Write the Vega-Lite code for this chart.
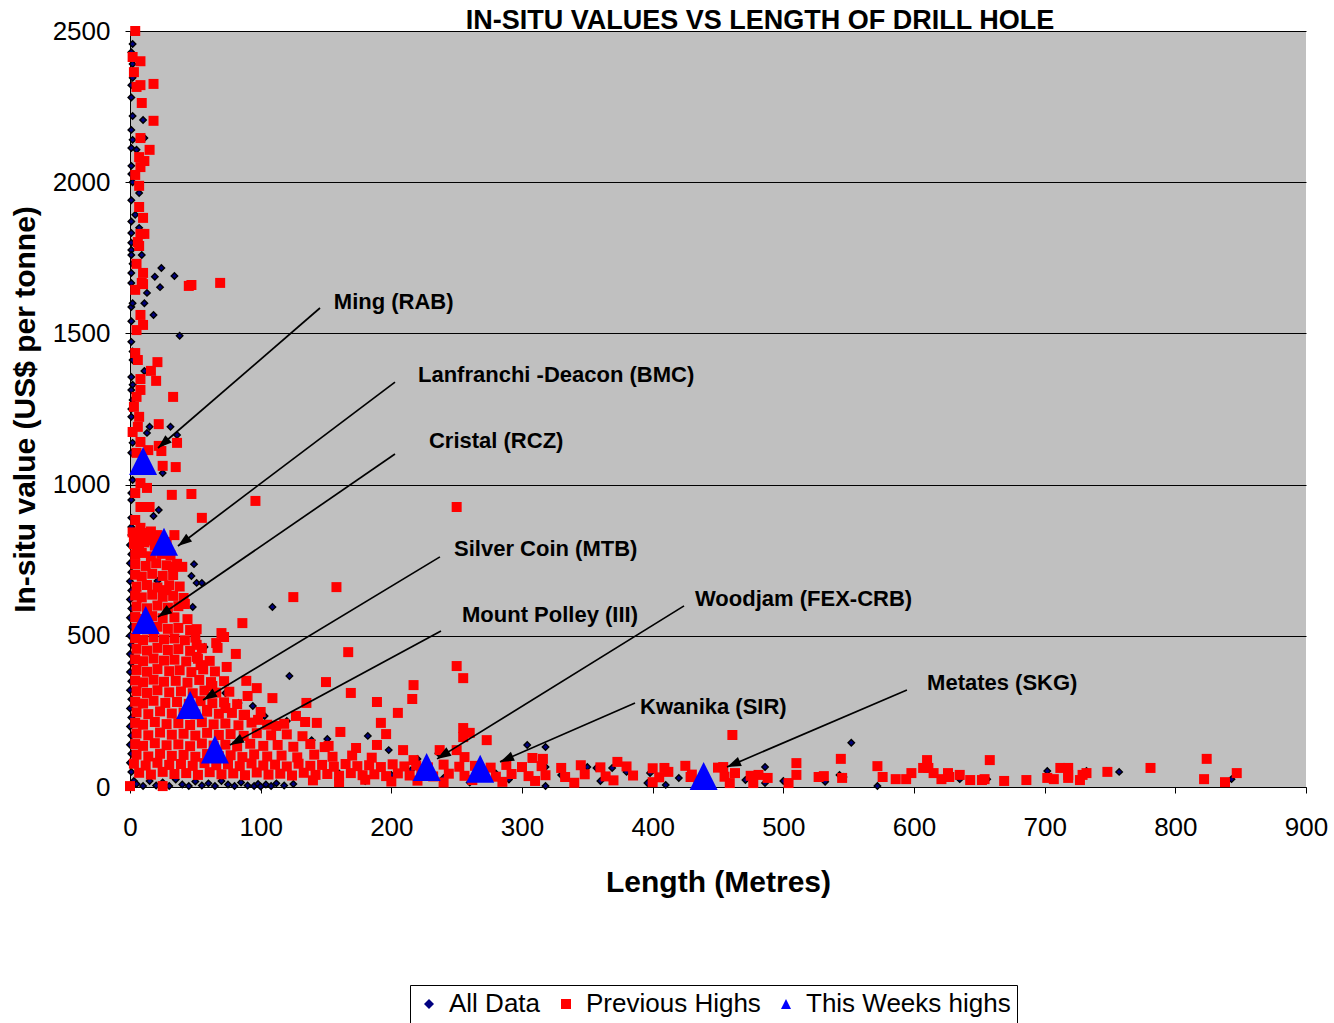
{
  "$schema": "https://vega.github.io/schema/vega-lite/v6.json",
  "autosize": "none",
  "padding": {"left": 130, "top": 31, "right": 28, "bottom": 236},
  "width": 1176,
  "height": 756,
  "background": "white",
  "config": {
    "view": {"stroke": null, "fill": "#C0C0C0"},
    "font": "Liberation Sans"
  },
  "title": {
    "text": "IN-SITU VALUES VS LENGTH OF DRILL HOLE",
    "font": "Liberation Sans",
    "fontSize": 27,
    "fontWeight": "bold",
    "color": "black",
    "anchor": "middle",
    "dx": 42,
    "dy": 18,
    "offset": 1
  },
  "datasets": {
    "pts": [
      {"x":2,"y":2457,"s":"All Data"},{"x":1,"y":2430,"s":"All Data"},{"x":2,"y":2391,"s":"All Data"},{"x":2,"y":2345,"s":"All Data"},{"x":1,"y":2321,"s":"All Data"},{"x":1,"y":2280,"s":"All Data"},{"x":2,"y":2219,"s":"All Data"},{"x":10,"y":2206,"s":"All Data"},{"x":1,"y":2173,"s":"All Data"},{"x":2,"y":2140,"s":"All Data"},{"x":1,"y":2113,"s":"All Data"},{"x":5,"y":2107,"s":"All Data"},{"x":11,"y":2146,"s":"All Data"},{"x":1,"y":2054,"s":"All Data"},{"x":1,"y":2027,"s":"All Data"},{"x":2,"y":2000,"s":"All Data"},{"x":7,"y":1964,"s":"All Data"},{"x":1,"y":1940,"s":"All Data"},{"x":4,"y":1892,"s":"All Data"},{"x":1,"y":1870,"s":"All Data"},{"x":7,"y":1849,"s":"All Data"},{"x":1,"y":1832,"s":"All Data"},{"x":1,"y":1800,"s":"All Data"},{"x":1,"y":1776,"s":"All Data"},{"x":1,"y":1759,"s":"All Data"},{"x":9,"y":1759,"s":"All Data"},{"x":2,"y":1730,"s":"All Data"},{"x":1,"y":1700,"s":"All Data"},{"x":24,"y":1716,"s":"All Data"},{"x":19,"y":1687,"s":"All Data"},{"x":34,"y":1690,"s":"All Data"},{"x":1,"y":1667,"s":"All Data"},{"x":23,"y":1653,"s":"All Data"},{"x":13,"y":1634,"s":"All Data"},{"x":11,"y":1600,"s":"All Data"},{"x":1,"y":1587,"s":"All Data"},{"x":18,"y":1561,"s":"All Data"},{"x":2,"y":1600,"s":"All Data"},{"x":1,"y":1540,"s":"All Data"},{"x":38,"y":1492,"s":"All Data"},{"x":1,"y":1472,"s":"All Data"},{"x":2,"y":1440,"s":"All Data"},{"x":2,"y":1412,"s":"All Data"},{"x":11,"y":1376,"s":"All Data"},{"x":1,"y":1356,"s":"All Data"},{"x":2,"y":1330,"s":"All Data"},{"x":1,"y":1313,"s":"All Data"},{"x":2,"y":1280,"s":"All Data"},{"x":1,"y":1250,"s":"All Data"},{"x":1,"y":1224,"s":"All Data"},{"x":15,"y":1191,"s":"All Data"},{"x":31,"y":1191,"s":"All Data"},{"x":13,"y":1171,"s":"All Data"},{"x":36,"y":1164,"s":"All Data"},{"x":2,"y":1138,"s":"All Data"},{"x":1,"y":1105,"s":"All Data"},{"x":25,"y":1038,"s":"All Data"},{"x":2,"y":1015,"s":"All Data"},{"x":1,"y":972,"s":"All Data"},{"x":1,"y":949,"s":"All Data"},{"x":22,"y":916,"s":"All Data"},{"x":18,"y":896,"s":"All Data"},{"x":1,"y":890,"s":"All Data"},{"x":1,"y":860,"s":"All Data"},{"x":1,"y":833,"s":"All Data"},{"x":0,"y":800,"s":"All Data"},{"x":1,"y":770,"s":"All Data"},{"x":0,"y":740,"s":"All Data"},{"x":1,"y":710,"s":"All Data"},{"x":0,"y":680,"s":"All Data"},{"x":1,"y":650,"s":"All Data"},{"x":0,"y":620,"s":"All Data"},{"x":1,"y":590,"s":"All Data"},{"x":0,"y":560,"s":"All Data"},{"x":1,"y":530,"s":"All Data"},{"x":0,"y":500,"s":"All Data"},{"x":1,"y":470,"s":"All Data"},{"x":0,"y":440,"s":"All Data"},{"x":1,"y":410,"s":"All Data"},{"x":0,"y":380,"s":"All Data"},{"x":1,"y":350,"s":"All Data"},{"x":0,"y":320,"s":"All Data"},{"x":1,"y":290,"s":"All Data"},{"x":0,"y":260,"s":"All Data"},{"x":1,"y":230,"s":"All Data"},{"x":0,"y":200,"s":"All Data"},{"x":1,"y":170,"s":"All Data"},{"x":0,"y":140,"s":"All Data"},{"x":1,"y":110,"s":"All Data"},{"x":0,"y":80,"s":"All Data"},{"x":1,"y":50,"s":"All Data"},{"x":3,"y":20,"s":"All Data"},{"x":1,"y":5,"s":"All Data"},
      {"x":49,"y":737,"s":"All Data"},{"x":47,"y":698,"s":"All Data"},{"x":51,"y":675,"s":"All Data"},{"x":55,"y":675,"s":"All Data"},{"x":21,"y":681,"s":"All Data"},{"x":48,"y":595,"s":"All Data"},{"x":109,"y":595,"s":"All Data"},{"x":57,"y":463,"s":"All Data"},{"x":122,"y":367,"s":"All Data"},{"x":73,"y":311,"s":"All Data"},{"x":83,"y":278,"s":"All Data"},{"x":94,"y":268,"s":"All Data"},{"x":103,"y":235,"s":"All Data"},{"x":120,"y":218,"s":"All Data"},{"x":139,"y":155,"s":"All Data"},{"x":182,"y":169,"s":"All Data"},{"x":151,"y":159,"s":"All Data"},{"x":198,"y":122,"s":"All Data"},{"x":220,"y":93,"s":"All Data"},{"x":236,"y":112,"s":"All Data"},{"x":304,"y":139,"s":"All Data"},{"x":318,"y":132,"s":"All Data"},{"x":318,"y":66,"s":"All Data"},{"x":350,"y":66,"s":"All Data"},{"x":357,"y":63,"s":"All Data"},{"x":369,"y":63,"s":"All Data"},{"x":318,"y":3,"s":"All Data"},{"x":398,"y":17,"s":"All Data"},{"x":410,"y":7,"s":"All Data"},{"x":471,"y":23,"s":"All Data"},{"x":486,"y":66,"s":"All Data"},{"x":486,"y":13,"s":"All Data"},{"x":500,"y":20,"s":"All Data"},{"x":532,"y":17,"s":"All Data"},{"x":543,"y":40,"s":"All Data"},{"x":546,"y":33,"s":"All Data"},{"x":572,"y":3,"s":"All Data"},{"x":398,"y":46,"s":"All Data"},{"x":396,"y":13,"s":"All Data"},{"x":552,"y":146,"s":"All Data"},{"x":635,"y":26,"s":"All Data"},{"x":656,"y":26,"s":"All Data"},{"x":702,"y":53,"s":"All Data"},{"x":732,"y":53,"s":"All Data"},{"x":757,"y":50,"s":"All Data"},{"x":843,"y":26,"s":"All Data"},
      {"x":5,"y":10,"s":"All Data"},{"x":10,"y":3,"s":"All Data"},{"x":15,"y":20,"s":"All Data"},{"x":20,"y":5,"s":"All Data"},{"x":25,"y":15,"s":"All Data"},{"x":30,"y":3,"s":"All Data"},{"x":35,"y":25,"s":"All Data"},{"x":40,"y":8,"s":"All Data"},{"x":45,"y":3,"s":"All Data"},{"x":50,"y":18,"s":"All Data"},{"x":55,"y":5,"s":"All Data"},{"x":60,"y":12,"s":"All Data"},{"x":65,"y":3,"s":"All Data"},{"x":70,"y":20,"s":"All Data"},{"x":75,"y":8,"s":"All Data"},{"x":80,"y":3,"s":"All Data"},{"x":85,"y":15,"s":"All Data"},{"x":90,"y":5,"s":"All Data"},{"x":95,"y":3,"s":"All Data"},{"x":98,"y":10,"s":"All Data"},{"x":100,"y":2,"s":"All Data"},{"x":104,"y":8,"s":"All Data"},{"x":108,"y":3,"s":"All Data"},{"x":112,"y":12,"s":"All Data"},{"x":118,"y":5,"s":"All Data"},{"x":125,"y":10,"s":"All Data"},
      {"x":140,"y":30,"s":"All Data"},{"x":160,"y":45,"s":"All Data"},{"x":180,"y":20,"s":"All Data"},{"x":200,"y":40,"s":"All Data"},{"x":215,"y":55,"s":"All Data"},{"x":240,"y":30,"s":"All Data"},{"x":260,"y":15,"s":"All Data"},{"x":280,"y":45,"s":"All Data"},{"x":290,"y":25,"s":"All Data"},{"x":330,"y":40,"s":"All Data"},{"x":360,"y":20,"s":"All Data"},{"x":380,"y":50,"s":"All Data"},{"x":420,"y":30,"s":"All Data"},{"x":440,"y":45,"s":"All Data"},

      {"x":4,"y":2500,"s":"Previous Highs"},{"x":2,"y":2414,"s":"Previous Highs"},{"x":8,"y":2400,"s":"Previous Highs"},{"x":3,"y":2364,"s":"Previous Highs"},{"x":5,"y":2315,"s":"Previous Highs"},{"x":8,"y":2321,"s":"Previous Highs"},{"x":18,"y":2325,"s":"Previous Highs"},{"x":9,"y":2262,"s":"Previous Highs"},{"x":18,"y":2203,"s":"Previous Highs"},{"x":8,"y":2146,"s":"Previous Highs"},{"x":15,"y":2107,"s":"Previous Highs"},{"x":7,"y":2083,"s":"Previous Highs"},{"x":11,"y":2070,"s":"Previous Highs"},{"x":8,"y":2050,"s":"Previous Highs"},{"x":4,"y":2024,"s":"Previous Highs"},{"x":7,"y":1988,"s":"Previous Highs"},{"x":7,"y":1918,"s":"Previous Highs"},{"x":10,"y":1882,"s":"Previous Highs"},{"x":8,"y":1829,"s":"Previous Highs"},{"x":11,"y":1829,"s":"Previous Highs"},{"x":6,"y":1802,"s":"Previous Highs"},{"x":7,"y":1789,"s":"Previous Highs"},{"x":5,"y":1730,"s":"Previous Highs"},{"x":10,"y":1700,"s":"Previous Highs"},{"x":9,"y":1667,"s":"Previous Highs"},{"x":47,"y":1660,"s":"Previous Highs"},{"x":69,"y":1667,"s":"Previous Highs"},
      {"x":4,"y":1644,"s":"Previous Highs"},{"x":10,"y":1663,"s":"Previous Highs"},{"x":8,"y":1561,"s":"Previous Highs"},{"x":10,"y":1528,"s":"Previous Highs"},{"x":5,"y":1511,"s":"Previous Highs"},{"x":45,"y":1657,"s":"Previous Highs"},{"x":4,"y":1435,"s":"Previous Highs"},{"x":6,"y":1412,"s":"Previous Highs"},{"x":21,"y":1405,"s":"Previous Highs"},{"x":16,"y":1376,"s":"Previous Highs"},{"x":20,"y":1343,"s":"Previous Highs"},{"x":8,"y":1349,"s":"Previous Highs"},{"x":8,"y":1313,"s":"Previous Highs"},{"x":5,"y":1290,"s":"Previous Highs"},{"x":33,"y":1290,"s":"Previous Highs"},{"x":3,"y":1257,"s":"Previous Highs"},{"x":7,"y":1224,"s":"Previous Highs"},{"x":22,"y":1200,"s":"Previous Highs"},{"x":6,"y":1191,"s":"Previous Highs"},{"x":2,"y":1174,"s":"Previous Highs"},{"x":8,"y":1141,"s":"Previous Highs"},{"x":14,"y":1114,"s":"Previous Highs"},{"x":36,"y":1138,"s":"Previous Highs"},{"x":24,"y":1111,"s":"Previous Highs"},{"x":22,"y":1128,"s":"Previous Highs"},{"x":5,"y":1105,"s":"Previous Highs"},{"x":25,"y":1062,"s":"Previous Highs"},{"x":35,"y":1058,"s":"Previous Highs"},{"x":8,"y":1005,"s":"Previous Highs"},{"x":13,"y":989,"s":"Previous Highs"},{"x":4,"y":972,"s":"Previous Highs"},{"x":32,"y":966,"s":"Previous Highs"},{"x":47,"y":969,"s":"Previous Highs"},{"x":8,"y":926,"s":"Previous Highs"},{"x":15,"y":926,"s":"Previous Highs"},{"x":55,"y":890,"s":"Previous Highs"},{"x":96,"y":946,"s":"Previous Highs"},{"x":250,"y":926,"s":"Previous Highs"},{"x":4,"y":883,"s":"Previous Highs"},{"x":8,"y":857,"s":"Previous Highs"},{"x":10,"y":840,"s":"Previous Highs"},{"x":21,"y":833,"s":"Previous Highs"},{"x":34,"y":833,"s":"Previous Highs"},
      {"x":3,"y":820,"s":"Previous Highs"},{"x":7,"y":805,"s":"Previous Highs"},{"x":12,"y":830,"s":"Previous Highs"},{"x":17,"y":815,"s":"Previous Highs"},{"x":22,"y":800,"s":"Previous Highs"},{"x":28,"y":810,"s":"Previous Highs"},{"x":5,"y":790,"s":"Previous Highs"},
      {"x":33,"y":728,"s":"Previous Highs"},{"x":40,"y":728,"s":"Previous Highs"},{"x":28,"y":651,"s":"Previous Highs"},{"x":42,"y":605,"s":"Previous Highs"},
      {"x":51,"y":522,"s":"Previous Highs"},{"x":70,"y":509,"s":"Previous Highs"},{"x":72,"y":496,"s":"Previous Highs"},{"x":86,"y":542,"s":"Previous Highs"},
      {"x":51,"y":470,"s":"Previous Highs"},{"x":66,"y":476,"s":"Previous Highs"},{"x":67,"y":460,"s":"Previous Highs"},{"x":81,"y":440,"s":"Previous Highs"},{"x":51,"y":430,"s":"Previous Highs"},{"x":54,"y":403,"s":"Previous Highs"},
      {"x":63,"y":334,"s":"Previous Highs"},{"x":74,"y":397,"s":"Previous Highs"},{"x":89,"y":351,"s":"Previous Highs"},{"x":97,"y":327,"s":"Previous Highs"},
      {"x":73,"y":261,"s":"Previous Highs"},{"x":59,"y":255,"s":"Previous Highs"},{"x":87,"y":238,"s":"Previous Highs"},{"x":98,"y":222,"s":"Previous Highs"},{"x":112,"y":202,"s":"Previous Highs"},{"x":127,"y":235,"s":"Previous Highs"},{"x":90,"y":301,"s":"Previous Highs"},{"x":109,"y":294,"s":"Previous Highs"},{"x":135,"y":278,"s":"Previous Highs"},{"x":134,"y":215,"s":"Previous Highs"},{"x":143,"y":212,"s":"Previous Highs"},
      {"x":161,"y":182,"s":"Previous Highs"},{"x":196,"y":175,"s":"Previous Highs"},{"x":192,"y":212,"s":"Previous Highs"},{"x":205,"y":245,"s":"Previous Highs"},{"x":189,"y":281,"s":"Previous Highs"},{"x":216,"y":291,"s":"Previous Highs"},{"x":217,"y":337,"s":"Previous Highs"},{"x":150,"y":347,"s":"Previous Highs"},{"x":169,"y":311,"s":"Previous Highs"},{"x":167,"y":446,"s":"Previous Highs"},{"x":158,"y":661,"s":"Previous Highs"},{"x":125,"y":628,"s":"Previous Highs"},{"x":173,"y":129,"s":"Previous Highs"},{"x":149,"y":132,"s":"Previous Highs"},{"x":189,"y":139,"s":"Previous Highs"},{"x":209,"y":122,"s":"Previous Highs"},{"x":0,"y":3,"s":"Previous Highs"},{"x":25,"y":3,"s":"Previous Highs"},
      {"x":2,"y":842,"s":"Previous Highs"},{"x":9,"y":836,"s":"Previous Highs"},{"x":16,"y":845,"s":"Previous Highs"},
      {"x":3,"y":803,"s":"Previous Highs"},{"x":11,"y":809,"s":"Previous Highs"},{"x":19,"y":798,"s":"Previous Highs"},{"x":27,"y":806,"s":"Previous Highs"},
      {"x":4,"y":768,"s":"Previous Highs"},{"x":9,"y":774,"s":"Previous Highs"},{"x":16,"y":763,"s":"Previous Highs"},{"x":24,"y":771,"s":"Previous Highs"},{"x":31,"y":766,"s":"Previous Highs"},
      {"x":4,"y":737,"s":"Previous Highs"},{"x":12,"y":731,"s":"Previous Highs"},{"x":20,"y":740,"s":"Previous Highs"},{"x":28,"y":733,"s":"Previous Highs"},{"x":36,"y":738,"s":"Previous Highs"},
      {"x":4,"y":702,"s":"Previous Highs"},{"x":9,"y":696,"s":"Previous Highs"},{"x":17,"y":705,"s":"Previous Highs"},{"x":25,"y":698,"s":"Previous Highs"},{"x":33,"y":701,"s":"Previous Highs"},
      {"x":5,"y":662,"s":"Previous Highs"},{"x":13,"y":668,"s":"Previous Highs"},{"x":21,"y":660,"s":"Previous Highs"},{"x":30,"y":667,"s":"Previous Highs"},{"x":38,"y":663,"s":"Previous Highs"},
      {"x":4,"y":633,"s":"Previous Highs"},{"x":9,"y":627,"s":"Previous Highs"},{"x":17,"y":636,"s":"Previous Highs"},{"x":25,"y":629,"s":"Previous Highs"},{"x":33,"y":632,"s":"Previous Highs"},{"x":41,"y":625,"s":"Previous Highs"},
      {"x":5,"y":597,"s":"Previous Highs"},{"x":13,"y":591,"s":"Previous Highs"},{"x":21,"y":600,"s":"Previous Highs"},{"x":29,"y":593,"s":"Previous Highs"},{"x":37,"y":598,"s":"Previous Highs"},
      {"x":4,"y":562,"s":"Previous Highs"},{"x":9,"y":556,"s":"Previous Highs"},{"x":17,"y":565,"s":"Previous Highs"},{"x":25,"y":558,"s":"Previous Highs"},{"x":34,"y":561,"s":"Previous Highs"},{"x":44,"y":555,"s":"Previous Highs"},
      {"x":5,"y":527,"s":"Previous Highs"},{"x":13,"y":521,"s":"Previous Highs"},{"x":21,"y":530,"s":"Previous Highs"},{"x":29,"y":523,"s":"Previous Highs"},{"x":37,"y":526,"s":"Previous Highs"},{"x":46,"y":519,"s":"Previous Highs"},
      {"x":4,"y":492,"s":"Previous Highs"},{"x":10,"y":486,"s":"Previous Highs"},{"x":18,"y":495,"s":"Previous Highs"},{"x":26,"y":488,"s":"Previous Highs"},{"x":34,"y":491,"s":"Previous Highs"},{"x":42,"y":485,"s":"Previous Highs"},{"x":50,"y":494,"s":"Previous Highs"},
      {"x":5,"y":457,"s":"Previous Highs"},{"x":13,"y":451,"s":"Previous Highs"},{"x":21,"y":460,"s":"Previous Highs"},{"x":29,"y":453,"s":"Previous Highs"},{"x":37,"y":456,"s":"Previous Highs"},{"x":46,"y":450,"s":"Previous Highs"},{"x":55,"y":459,"s":"Previous Highs"},
      {"x":4,"y":422,"s":"Previous Highs"},{"x":10,"y":416,"s":"Previous Highs"},{"x":18,"y":425,"s":"Previous Highs"},{"x":26,"y":418,"s":"Previous Highs"},{"x":34,"y":421,"s":"Previous Highs"},{"x":43,"y":415,"s":"Previous Highs"},{"x":52,"y":424,"s":"Previous Highs"},{"x":61,"y":417,"s":"Previous Highs"},
      {"x":5,"y":387,"s":"Previous Highs"},{"x":13,"y":381,"s":"Previous Highs"},{"x":21,"y":390,"s":"Previous Highs"},{"x":30,"y":383,"s":"Previous Highs"},{"x":38,"y":386,"s":"Previous Highs"},{"x":47,"y":380,"s":"Previous Highs"},{"x":56,"y":389,"s":"Previous Highs"},{"x":65,"y":382,"s":"Previous Highs"},
      {"x":4,"y":352,"s":"Previous Highs"},{"x":10,"y":346,"s":"Previous Highs"},{"x":18,"y":355,"s":"Previous Highs"},{"x":26,"y":348,"s":"Previous Highs"},{"x":35,"y":351,"s":"Previous Highs"},{"x":44,"y":345,"s":"Previous Highs"},{"x":53,"y":354,"s":"Previous Highs"},{"x":62,"y":347,"s":"Previous Highs"},{"x":72,"y":350,"s":"Previous Highs"},
      {"x":5,"y":317,"s":"Previous Highs"},{"x":13,"y":311,"s":"Previous Highs"},{"x":21,"y":320,"s":"Previous Highs"},{"x":30,"y":313,"s":"Previous Highs"},{"x":39,"y":316,"s":"Previous Highs"},{"x":48,"y":310,"s":"Previous Highs"},{"x":57,"y":319,"s":"Previous Highs"},{"x":66,"y":312,"s":"Previous Highs"},{"x":76,"y":315,"s":"Previous Highs"},
      {"x":4,"y":282,"s":"Previous Highs"},{"x":10,"y":276,"s":"Previous Highs"},{"x":18,"y":285,"s":"Previous Highs"},{"x":27,"y":278,"s":"Previous Highs"},{"x":36,"y":281,"s":"Previous Highs"},{"x":45,"y":275,"s":"Previous Highs"},{"x":54,"y":284,"s":"Previous Highs"},{"x":63,"y":277,"s":"Previous Highs"},{"x":72,"y":280,"s":"Previous Highs"},{"x":82,"y":274,"s":"Previous Highs"},
      {"x":5,"y":247,"s":"Previous Highs"},{"x":14,"y":241,"s":"Previous Highs"},{"x":23,"y":250,"s":"Previous Highs"},{"x":32,"y":243,"s":"Previous Highs"},{"x":41,"y":246,"s":"Previous Highs"},{"x":50,"y":240,"s":"Previous Highs"},{"x":59,"y":249,"s":"Previous Highs"},{"x":68,"y":242,"s":"Previous Highs"},{"x":78,"y":245,"s":"Previous Highs"},{"x":88,"y":239,"s":"Previous Highs"},{"x":100,"y":248,"s":"Previous Highs"},
      {"x":4,"y":212,"s":"Previous Highs"},{"x":10,"y":206,"s":"Previous Highs"},{"x":19,"y":215,"s":"Previous Highs"},{"x":28,"y":208,"s":"Previous Highs"},{"x":37,"y":211,"s":"Previous Highs"},{"x":46,"y":205,"s":"Previous Highs"},{"x":55,"y":214,"s":"Previous Highs"},{"x":64,"y":207,"s":"Previous Highs"},{"x":73,"y":210,"s":"Previous Highs"},{"x":83,"y":204,"s":"Previous Highs"},{"x":93,"y":213,"s":"Previous Highs"},{"x":105,"y":206,"s":"Previous Highs"},{"x":118,"y":209,"s":"Previous Highs"},
      {"x":5,"y":177,"s":"Previous Highs"},{"x":14,"y":171,"s":"Previous Highs"},{"x":23,"y":180,"s":"Previous Highs"},{"x":32,"y":173,"s":"Previous Highs"},{"x":41,"y":176,"s":"Previous Highs"},{"x":50,"y":170,"s":"Previous Highs"},{"x":59,"y":179,"s":"Previous Highs"},{"x":68,"y":172,"s":"Previous Highs"},{"x":77,"y":175,"s":"Previous Highs"},{"x":87,"y":169,"s":"Previous Highs"},{"x":97,"y":178,"s":"Previous Highs"},{"x":108,"y":171,"s":"Previous Highs"},{"x":120,"y":174,"s":"Previous Highs"},{"x":132,"y":168,"s":"Previous Highs"},
      {"x":4,"y":142,"s":"Previous Highs"},{"x":10,"y":136,"s":"Previous Highs"},{"x":19,"y":145,"s":"Previous Highs"},{"x":28,"y":138,"s":"Previous Highs"},{"x":37,"y":141,"s":"Previous Highs"},{"x":46,"y":135,"s":"Previous Highs"},{"x":55,"y":144,"s":"Previous Highs"},{"x":64,"y":137,"s":"Previous Highs"},{"x":73,"y":140,"s":"Previous Highs"},{"x":82,"y":134,"s":"Previous Highs"},{"x":92,"y":143,"s":"Previous Highs"},{"x":102,"y":136,"s":"Previous Highs"},{"x":113,"y":139,"s":"Previous Highs"},{"x":125,"y":133,"s":"Previous Highs"},{"x":138,"y":142,"s":"Previous Highs"},{"x":152,"y":136,"s":"Previous Highs"},
      {"x":5,"y":107,"s":"Previous Highs"},{"x":14,"y":101,"s":"Previous Highs"},{"x":23,"y":110,"s":"Previous Highs"},{"x":32,"y":103,"s":"Previous Highs"},{"x":41,"y":106,"s":"Previous Highs"},{"x":50,"y":100,"s":"Previous Highs"},{"x":59,"y":109,"s":"Previous Highs"},{"x":68,"y":102,"s":"Previous Highs"},{"x":77,"y":105,"s":"Previous Highs"},{"x":86,"y":99,"s":"Previous Highs"},{"x":95,"y":108,"s":"Previous Highs"},{"x":105,"y":101,"s":"Previous Highs"},{"x":116,"y":104,"s":"Previous Highs"},{"x":128,"y":98,"s":"Previous Highs"},{"x":141,"y":107,"s":"Previous Highs"},{"x":155,"y":100,"s":"Previous Highs"},{"x":170,"y":104,"s":"Previous Highs"},{"x":185,"y":97,"s":"Previous Highs"},
      {"x":3,"y":77,"s":"Previous Highs"},{"x":12,"y":71,"s":"Previous Highs"},{"x":21,"y":80,"s":"Previous Highs"},{"x":30,"y":73,"s":"Previous Highs"},{"x":39,"y":76,"s":"Previous Highs"},{"x":48,"y":70,"s":"Previous Highs"},{"x":57,"y":79,"s":"Previous Highs"},{"x":66,"y":72,"s":"Previous Highs"},{"x":75,"y":75,"s":"Previous Highs"},{"x":84,"y":69,"s":"Previous Highs"},{"x":93,"y":78,"s":"Previous Highs"},{"x":102,"y":71,"s":"Previous Highs"},{"x":111,"y":74,"s":"Previous Highs"},{"x":120,"y":68,"s":"Previous Highs"},{"x":129,"y":77,"s":"Previous Highs"},{"x":138,"y":70,"s":"Previous Highs"},{"x":147,"y":73,"s":"Previous Highs"},{"x":156,"y":67,"s":"Previous Highs"},{"x":165,"y":76,"s":"Previous Highs"},{"x":174,"y":69,"s":"Previous Highs"},{"x":183,"y":72,"s":"Previous Highs"},{"x":192,"y":66,"s":"Previous Highs"},{"x":201,"y":75,"s":"Previous Highs"},{"x":210,"y":68,"s":"Previous Highs"},{"x":219,"y":71,"s":"Previous Highs"},{"x":228,"y":65,"s":"Previous Highs"},{"x":240,"y":74,"s":"Previous Highs"},{"x":252,"y":67,"s":"Previous Highs"},{"x":264,"y":70,"s":"Previous Highs"},{"x":276,"y":64,"s":"Previous Highs"},{"x":288,"y":73,"s":"Previous Highs"},{"x":300,"y":66,"s":"Previous Highs"},{"x":315,"y":69,"s":"Previous Highs"},{"x":330,"y":63,"s":"Previous Highs"},{"x":345,"y":72,"s":"Previous Highs"},{"x":360,"y":65,"s":"Previous Highs"},{"x":380,"y":68,"s":"Previous Highs"},{"x":400,"y":62,"s":"Previous Highs"},{"x":425,"y":70,"s":"Previous Highs"},{"x":450,"y":64,"s":"Previous Highs"},
      {"x":7,"y":47,"s":"Previous Highs"},{"x":16,"y":41,"s":"Previous Highs"},{"x":25,"y":50,"s":"Previous Highs"},{"x":34,"y":43,"s":"Previous Highs"},{"x":43,"y":46,"s":"Previous Highs"},{"x":52,"y":40,"s":"Previous Highs"},{"x":61,"y":49,"s":"Previous Highs"},{"x":70,"y":42,"s":"Previous Highs"},{"x":79,"y":45,"s":"Previous Highs"},{"x":88,"y":39,"s":"Previous Highs"},{"x":97,"y":48,"s":"Previous Highs"},{"x":106,"y":41,"s":"Previous Highs"},{"x":115,"y":44,"s":"Previous Highs"},{"x":124,"y":38,"s":"Previous Highs"},{"x":133,"y":47,"s":"Previous Highs"},{"x":142,"y":40,"s":"Previous Highs"},{"x":151,"y":43,"s":"Previous Highs"},{"x":160,"y":37,"s":"Previous Highs"},{"x":169,"y":46,"s":"Previous Highs"},{"x":178,"y":39,"s":"Previous Highs"},{"x":187,"y":42,"s":"Previous Highs"},{"x":196,"y":36,"s":"Previous Highs"},{"x":205,"y":45,"s":"Previous Highs"},{"x":214,"y":38,"s":"Previous Highs"},{"x":223,"y":41,"s":"Previous Highs"},{"x":232,"y":35,"s":"Previous Highs"},{"x":244,"y":44,"s":"Previous Highs"},{"x":256,"y":37,"s":"Previous Highs"},{"x":268,"y":40,"s":"Previous Highs"},{"x":280,"y":34,"s":"Previous Highs"},{"x":292,"y":43,"s":"Previous Highs"},{"x":305,"y":36,"s":"Previous Highs"},{"x":318,"y":39,"s":"Previous Highs"},{"x":333,"y":33,"s":"Previous Highs"},{"x":348,"y":42,"s":"Previous Highs"},{"x":364,"y":35,"s":"Previous Highs"},{"x":385,"y":38,"s":"Previous Highs"},{"x":405,"y":32,"s":"Previous Highs"},{"x":430,"y":41,"s":"Previous Highs"},{"x":455,"y":34,"s":"Previous Highs"},{"x":475,"y":37,"s":"Previous Highs"},
      {"x":140,"y":22,"s":"Previous Highs"},{"x":160,"y":16,"s":"Previous Highs"},{"x":180,"y":24,"s":"Previous Highs"},{"x":200,"y":18,"s":"Previous Highs"},{"x":220,"y":21,"s":"Previous Highs"},{"x":240,"y":15,"s":"Previous Highs"},{"x":262,"y":23,"s":"Previous Highs"},{"x":285,"y":17,"s":"Previous Highs"},{"x":310,"y":20,"s":"Previous Highs"},{"x":340,"y":14,"s":"Previous Highs"},{"x":370,"y":22,"s":"Previous Highs"},{"x":400,"y":16,"s":"Previous Highs"},{"x":435,"y":19,"s":"Previous Highs"},
      {"x":217,"y":89,"s":"Previous Highs"},{"x":256,"y":99,"s":"Previous Highs"},{"x":308,"y":96,"s":"Previous Highs"},{"x":316,"y":93,"s":"Previous Highs"},{"x":373,"y":83,"s":"Previous Highs"},{"x":409,"y":63,"s":"Previous Highs"},{"x":412,"y":50,"s":"Previous Highs"},{"x":429,"y":33,"s":"Previous Highs"},{"x":454,"y":66,"s":"Previous Highs"},{"x":459,"y":13,"s":"Previous Highs"},{"x":463,"y":46,"s":"Previous Highs"},{"x":477,"y":13,"s":"Previous Highs"},{"x":481,"y":40,"s":"Previous Highs"},{"x":488,"y":30,"s":"Previous Highs"},{"x":504,"y":13,"s":"Previous Highs"},{"x":510,"y":40,"s":"Previous Highs"},{"x":510,"y":79,"s":"Previous Highs"},{"x":527,"y":33,"s":"Previous Highs"},{"x":531,"y":36,"s":"Previous Highs"},{"x":544,"y":93,"s":"Previous Highs"},{"x":545,"y":30,"s":"Previous Highs"},{"x":461,"y":172,"s":"Previous Highs"},{"x":237,"y":122,"s":"Previous Highs"},{"x":250,"y":122,"s":"Previous Highs"},{"x":255,"y":195,"s":"Previous Highs"},{"x":260,"y":179,"s":"Previous Highs"},{"x":255,"y":165,"s":"Previous Highs"},{"x":273,"y":155,"s":"Previous Highs"},{"x":250,"y":400,"s":"Previous Highs"},{"x":255,"y":360,"s":"Previous Highs"},
      {"x":572,"y":69,"s":"Previous Highs"},{"x":576,"y":33,"s":"Previous Highs"},{"x":586,"y":26,"s":"Previous Highs"},{"x":594,"y":26,"s":"Previous Highs"},{"x":598,"y":46,"s":"Previous Highs"},{"x":607,"y":63,"s":"Previous Highs"},{"x":610,"y":89,"s":"Previous Highs"},{"x":611,"y":63,"s":"Previous Highs"},{"x":615,"y":46,"s":"Previous Highs"},{"x":621,"y":26,"s":"Previous Highs"},{"x":626,"y":46,"s":"Previous Highs"},{"x":627,"y":33,"s":"Previous Highs"},{"x":635,"y":40,"s":"Previous Highs"},{"x":643,"y":23,"s":"Previous Highs"},{"x":652,"y":23,"s":"Previous Highs"},{"x":654,"y":26,"s":"Previous Highs"},{"x":658,"y":89,"s":"Previous Highs"},{"x":669,"y":20,"s":"Previous Highs"},{"x":686,"y":23,"s":"Previous Highs"},{"x":702,"y":30,"s":"Previous Highs"},{"x":707,"y":26,"s":"Previous Highs"},{"x":712,"y":63,"s":"Previous Highs"},{"x":718,"y":63,"s":"Previous Highs"},{"x":718,"y":40,"s":"Previous Highs"},{"x":718,"y":30,"s":"Previous Highs"},{"x":727,"y":23,"s":"Previous Highs"},{"x":729,"y":40,"s":"Previous Highs"},{"x":732,"y":46,"s":"Previous Highs"},{"x":748,"y":50,"s":"Previous Highs"},{"x":781,"y":63,"s":"Previous Highs"},{"x":824,"y":93,"s":"Previous Highs"},{"x":822,"y":26,"s":"Previous Highs"},{"x":838,"y":16,"s":"Previous Highs"},{"x":847,"y":46,"s":"Previous Highs"},

      {"x":10,"y":1078,"s":"This Weeks highs"},{"x":26,"y":811,"s":"This Weeks highs"},{"x":12,"y":552,"s":"This Weeks highs"},{"x":46,"y":271,"s":"This Weeks highs"},{"x":65,"y":124,"s":"This Weeks highs"},{"x":227,"y":66,"s":"This Weeks highs"},{"x":268,"y":60,"s":"This Weeks highs"},{"x":439,"y":36,"s":"This Weeks highs"}
    ],
    "notes": [
      {"label":"Ming (RAB)","lx":156,"ly":1604,"x":145.4,"y":1584,"x2":21.4,"y2":1121},
      {"label":"Lanfranchi -Deacon (BMC)","lx":220.4,"ly":1362,"x":202.8,"y":1339,"x2":36.7,"y2":797},
      {"label":"Cristal (RCZ)","lx":228.8,"ly":1144,"x":202.8,"y":1101,"x2":21.4,"y2":562},
      {"label":"Silver Coin (MTB)","lx":248,"ly":787,"x":237.2,"y":761,"x2":55.9,"y2":288},
      {"label":"Mount Polley (III)","lx":254.1,"ly":569,"x":238,"y":516,"x2":76.5,"y2":139},
      {"label":"Woodjam (FEX-CRB)","lx":432.4,"ly":622,"x":424,"y":599,"x2":235,"y2":93},
      {"label":"Kwanika (SIR)","lx":390.3,"ly":265,"x":386.5,"y":278,"x2":283.2,"y2":83},
      {"label":"Metates (SKG)","lx":610,"ly":344,"x":594.6,"y":321,"x2":456.9,"y2":66}
    ]
  },
  "layer": [
    {
      "data": {"name": "pts"},
      "transform": [{"filter": "datum.s === 'All Data'"}],
      "mark": {"type": "point", "filled": true, "size": 42, "stroke": "black", "strokeWidth": 1.4, "opacity": 1},
      "encoding": {
        "x": {"field": "x", "type": "quantitative", "title": "Length (Metres)",
          "scale": {"domain": [0, 900], "nice": false, "zero": false},
          "axis": {"values": [0,100,200,300,400,500,600,700,800,900], "format": "d", "grid": false, "domainColor": "black", "tickColor": "black", "tickSize": 6,
            "labelFont": "Liberation Sans", "labelFontSize": 26, "labelColor": "black", "labelPadding": 21, "labelFlush": false, "labelOverlap": false,
            "titleFont": "Liberation Sans", "titleFontSize": 30, "titleFontWeight": "bold", "titleColor": "black", "titlePadding": 27}},
        "y": {"field": "y", "type": "quantitative", "title": "In-situ value (US$ per tonne)",
          "scale": {"domain": [0, 2500], "nice": false, "zero": false},
          "axis": {"values": [0,500,1000,1500,2000,2500], "format": "d", "grid": true, "gridColor": "black", "gridWidth": 1, "gridOpacity": 1, "domainColor": "black", "tickColor": "black", "tickSize": 5,
            "labelFont": "Liberation Sans", "labelFontSize": 26, "labelColor": "black", "labelPadding": 15, "labelFlush": false, "labelOverlap": false,
            "titleFont": "Liberation Sans", "titleFontSize": 30, "titleFontWeight": "bold", "titleColor": "black", "titlePadding": 12}},
        "color": {"field": "s", "type": "nominal",
          "scale": {"domain": ["All Data", "Previous Highs", "This Weeks highs"], "range": ["#000080", "#FF0000", "#0000FF"]},
          "legend": {"orient": "none", "legendX": 280, "legendY": 954, "direction": "horizontal", "title": null,
            "labelFont": "Liberation Sans", "labelFontSize": 26, "labelColor": "black", "labelLimit": 0, "symbolSize": 100, "symbolStrokeWidth": 0,
            "strokeColor": "black", "padding": 6, "columnPadding": 12, "labelOffset": 7}},
        "shape": {"field": "s", "type": "nominal",
          "scale": {"domain": ["All Data", "Previous Highs", "This Weeks highs"], "range": ["diamond", "square", "M0,-1L-1,1L1,1Z"]},
          "legend": {"orient": "none", "legendX": 280, "legendY": 954, "direction": "horizontal", "title": null,
            "labelFont": "Liberation Sans", "labelFontSize": 26, "labelColor": "black", "labelLimit": 0, "symbolSize": 100, "symbolStrokeWidth": 0,
            "strokeColor": "black", "padding": 6, "columnPadding": 12, "labelOffset": 7}}
      }
    },
    {
      "data": {"name": "pts"},
      "transform": [{"filter": "datum.s === 'Previous Highs'"}],
      "mark": {"type": "point", "filled": true, "size": 100, "opacity": 1},
      "encoding": {
        "x": {"field": "x", "type": "quantitative", "title": "Length (Metres)"},
        "y": {"field": "y", "type": "quantitative", "title": "In-situ value (US$ per tonne)"},
        "color": {"field": "s", "type": "nominal"},
        "shape": {"field": "s", "type": "nominal"}
      }
    },
    {
      "data": {"name": "pts"},
      "transform": [{"filter": "datum.s === 'This Weeks highs'"}],
      "mark": {"type": "point", "filled": true, "size": 784, "opacity": 1},
      "encoding": {
        "x": {"field": "x", "type": "quantitative", "title": "Length (Metres)"},
        "y": {"field": "y", "type": "quantitative", "title": "In-situ value (US$ per tonne)"},
        "color": {"field": "s", "type": "nominal"},
        "shape": {"field": "s", "type": "nominal"}
      }
    },
    {
      "data": {"name": "notes"},
      "mark": {"type": "rule", "color": "black", "strokeWidth": 1.7},
      "encoding": {
        "x": {"field": "x", "type": "quantitative", "title": "Length (Metres)"},
        "y": {"field": "y", "type": "quantitative", "title": "In-situ value (US$ per tonne)"},
        "x2": {"field": "x2"},
        "y2": {"field": "y2"}
      }
    },
    {
      "data": {"name": "notes"},
      "mark": {"type": "point", "filled": true, "color": "black", "opacity": 1, "size": 196, "shape": "M0,0L-0.7,2L0.7,2Z",
        "angle": {"expr": "atan2(scale('x', datum.x2) - scale('x', datum.x), scale('y', datum.y) - scale('y', datum.y2)) * 180 / PI"}},
      "encoding": {
        "x": {"field": "x2", "type": "quantitative", "title": "Length (Metres)"},
        "y": {"field": "y2", "type": "quantitative", "title": "In-situ value (US$ per tonne)"}
      }
    },
    {
      "data": {"name": "notes"},
      "mark": {"type": "text", "align": "left", "baseline": "middle", "font": "Liberation Sans", "fontSize": 22, "fontWeight": "bold", "color": "black"},
      "encoding": {
        "x": {"field": "lx", "type": "quantitative", "title": "Length (Metres)"},
        "y": {"field": "ly", "type": "quantitative", "title": "In-situ value (US$ per tonne)"},
        "text": {"field": "label"}
      }
    }
  ]
}
